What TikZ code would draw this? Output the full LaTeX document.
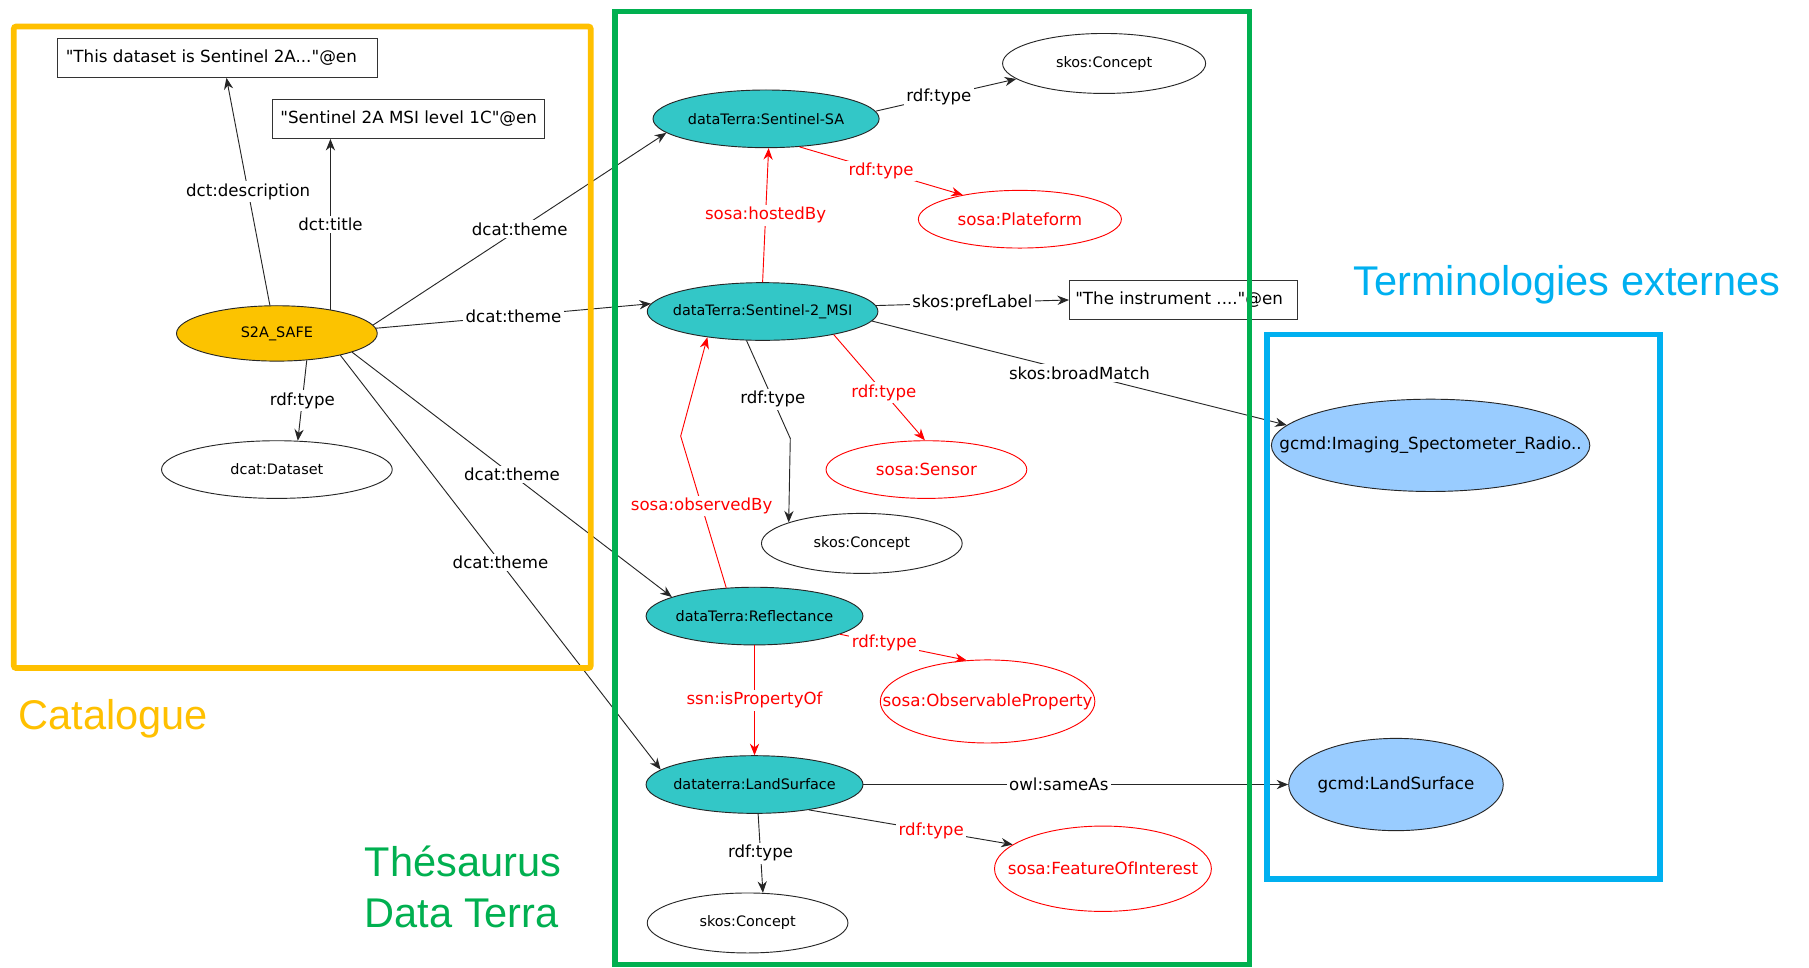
\documentclass[tikz,border=0pt]{standalone}
\usepackage{fontspec}
\setmainfont{DejaVu Sans}[Ligatures=TeXOff]
\newfontfamily\arialf{Liberation Sans}
\usetikzlibrary{arrows.meta,calc,shapes.geometric}
\definecolor{catorange}{HTML}{FFC000}
\definecolor{thgreen}{HTML}{00B050}
\definecolor{extblue}{HTML}{00B0F0}
\definecolor{tealfill}{HTML}{33C7C7}
\definecolor{s2afill}{HTML}{FCC300}
\definecolor{bluefill}{HTML}{99CCFF}
\newcommand{\ztxt}[1]{\makebox[0pt]{#1}}
\tikzset{
  smallfont/.style={font=\fontsize{12.5}{14}\selectfont},
  bigfont/.style={font=\fontsize{14.5}{16}\selectfont},
  lit/.style={draw=black!80, line width=0.9pt, minimum height=34pt, inner ysep=0pt, inner xsep=7pt, bigfont},
  ell/.style={ellipse, draw=black!85, line width=0.8pt, inner sep=0pt},
  concept/.style={ell, smallfont, fill=white, minimum width=174pt, minimum height=52pt},
  termnode/.style={ell, smallfont, fill=tealfill, minimum height=50pt},
  redclass/.style={ell, bigfont, draw=red, text=red, fill=white},
  extnode/.style={ell, bigfont, fill=bluefill, minimum height=80pt},
  edge/.style={draw=black!85, line width=0.8pt, -{Stealth[length=10pt,width=8pt]}},
  redge/.style={edge, draw=red},
  lab/.style={fill=white, inner sep=2pt, font=\fontsize{14.4}{16}\selectfont},
  rlab/.style={lab, text=red},
  frame/.style={line width=5pt},
  title/.style={font=\arialf\fontsize{36}{44}\selectfont, inner sep=0pt, anchor=base west}
}
\begin{document}
\begin{tikzpicture}[x=1pt,y=-1pt]
\useasboundingbox (0,0) rectangle (1568,839);
\fill[white] (0,0) rectangle (1568,839);

% literals
\node[lit] (lit1) at (188.5,50) {\makebox[263pt][l]{"This dataset is Sentinel 2A..."@en}};
\node[lit] (lit2) at (354,103) {\makebox[222pt][l]{"Sentinel 2A MSI level 1C"@en}};
\node[lit, inner xsep=5pt] (instr) at (1026,260) {\makebox[188pt][l]{"The instrument ...."@en}};

% catalogue
\node[ell, smallfont, fill=s2afill, minimum width=174pt, minimum height=48pt] (s2a) at (240,289) {\ztxt{S2A\_SAFE}};
\node[concept, minimum width=200pt, minimum height=50pt] (dataset) at (240,407) {\ztxt{dcat:Dataset}};

% thesaurus
\node[termnode, minimum width=196pt] (sa) at (664,103) {\ztxt{dataTerra:Sentinel-SA}};
\node[concept, minimum width=176pt] (skos1) at (957,55) {\ztxt{skos:Concept}};
\node[redclass, minimum width=176pt, minimum height=50pt] (plat) at (884,190) {\ztxt{sosa:Plateform}};
\node[termnode, minimum width=200pt] (msi) at (661,270) {\ztxt{dataTerra:Sentinel-2\_MSI}};
\node[redclass, minimum width=174pt, minimum height=50pt] (sensor) at (803,407) {\ztxt{sosa:Sensor}};
\node[concept] (skos2) at (747,471) {\ztxt{skos:Concept}};
\node[termnode, minimum width=188pt] (refl) at (654,534) {\ztxt{dataTerra:Reflectance}};
\node[redclass, minimum width=186pt, minimum height=72pt] (obs) at (856,608) {\ztxt{sosa:ObservableProperty}};
\node[termnode, minimum width=188pt] (ls) at (654,680) {\ztxt{dataterra:LandSurface}};
\node[redclass, minimum width=188pt, minimum height=74pt] (foi) at (956,753) {\ztxt{sosa:FeatureOfInterest}};
\node[concept] (skos3) at (648,800) {\ztxt{skos:Concept}};

% external
\node[extnode, minimum width=276pt] (gimg) at (1240,386) {\ztxt{gcmd:Imaging\_Spectometer\_Radio..}};
\node[extnode, minimum width=186pt] (gls) at (1210,680) {\ztxt{gcmd:LandSurface}};

\coordinate (bendA) at (685,380);
\coordinate (bendB) at (590,378);

% edges
\draw[edge] (s2a.104) -- node[lab]{dct:description} (lit1.294);
\draw[edge] (s2a.24) -- node[lab]{dct:title} (s2a.24 |- lit2.south);
\draw[edge] (s2a.318) -- node[lab]{rdf:type} (dataset.54);
\draw[edge] (s2a.5) -- node[lab]{dcat:theme} (sa.188);
\draw[edge] (s2a.3) -- node[lab]{dcat:theme} (msi.176);
\draw[edge] (s2a.346) -- node[lab]{dcat:theme} (refl.167);
\draw[edge] (s2a.341) -- node[lab]{dcat:theme} (ls.171);

\draw[edge] (sa.4) -- node[lab, pos=0.45]{rdf:type} (skos1.190);
\draw[redge] (sa.320) -- node[rlab]{rdf:type} (plat.157);
\draw[redge] (msi.90) -- node[rlab]{sosa:hostedBy} (sa.275);
\draw[edge] (msi.3) -- node[lab]{skos:prefLabel} (instr.west);
\draw[edge] (msi.355) -- node[lab]{skos:broadMatch} (gimg.172);
\draw[redge] (msi.342) -- node[rlab, pos=0.55]{rdf:type} (sensor.93);
\draw[edge] (msi.241) -- node[lab, pos=0.6]{rdf:type} (bendA) -- (skos2.164);
\draw[redge] (refl.135) -- node[rlab, pos=0.54]{sosa:observedBy} (bendB) -- (msi.205);
\draw[redge] (refl.348) -- node[rlab, pos=0.35]{rdf:type} (obs.117);
\draw[redge] (refl.south) -- node[rlab]{ssn:isPropertyOf} (ls.north);
\draw[edge] (ls.east) -- node[lab, pos=0.46]{owl:sameAs} (gls.west);
\draw[edge] (ls.335) -- node[rlab, pos=0.6]{rdf:type} (foi.165);
\draw[edge] (ls.277) -- node[lab]{rdf:type} (skos3.63);

% frames
\draw[frame, catorange, rounded corners=2pt] (12,23) rectangle (512,579);
\draw[frame, thgreen] (533,10) rectangle (1083,836);
\draw[frame, extblue] (1098,290) rectangle (1439,762);

% titles
\node[title, text=catorange] (tcat) at (16,632) {Catalogue};
\node[title, text=thgreen] (tthes) at (316,760) {Thésaurus};
\node[title, text=thgreen] (tdt) at (316,804) {Data Terra};
\node[title, text=extblue] (text) at (1173,256) {Terminologies externes};
\end{tikzpicture}
\end{document}
